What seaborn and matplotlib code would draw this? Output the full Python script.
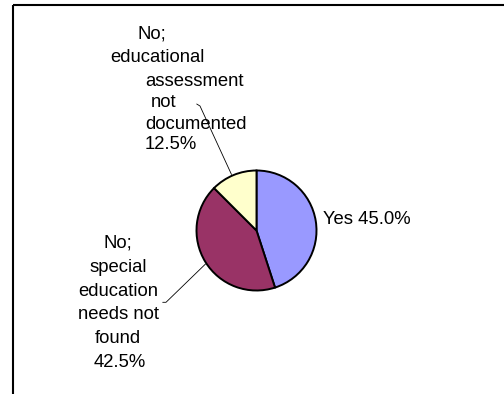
import matplotlib
matplotlib.use("Agg")
import matplotlib.pyplot as plt
import seaborn as sns

# Share of cases by assessment outcome
categories = ["Yes",
              "No; special education needs not found",
              "No; educational assessment not documented"]
values = [45.0, 42.5, 12.5]
colors = ["#9999FF", "#993366", "#FFFFCC"]

sns.set_theme(style="white")
plt.rcParams["font.family"] = ["Liberation Sans", "DejaVu Sans"]

W, H = 504, 394
fig = plt.figure(figsize=(W / 100, H / 100), dpi=100)
ax = fig.add_axes([0, 0, 1, 1])


def py(y):
    # pixel rows counted from the top
    return H - y


# pie, clockwise from 12 o'clock
cx, cy, r = 256.5, 230.5, 60
ax.pie(values, colors=colors, startangle=90, counterclock=False,
       center=(cx, py(cy)), radius=r, frame=True,
       wedgeprops=dict(edgecolor="black", linewidth=1.4))
ax.set_xlim(0, W)
ax.set_ylim(0, H)
ax.set_aspect("equal")
ax.axis("off")

fs = 13.3
pct = [f"{v:.1f}%" for v in values]

# "Yes" label, right of the pie
ax.text(322.7, py(224), f"{categories[0]} {pct[0]}", fontsize=fs,
        ha="left", va="baseline", color="black")

# lower-left label, wrapped and centred
low_lines = ["No;", "special", "education", "needs not", "found", pct[1]]
low_base = [247.7, 271.7, 295.7, 319.3, 343.3, 366.7]
low_x = [118, 118, 118, 118, 118, 120]
for t, x, b in zip(low_lines, low_x, low_base):
    ax.text(x, py(b), t, fontsize=fs, ha="center", va="baseline", color="black")

# upper label, wrapped
top_lines = ["No;", "educational", "assessment", "not", "documented", pct[2]]
top_x = [137.3, 110.7, 145, 150.7, 145, 145]
top_base = [38.3, 61.7, 86, 106.7, 129, 149.3]
for t, x, b in zip(top_lines, top_x, top_base):
    ax.text(x, py(b), t, fontsize=fs, ha="left", va="baseline", color="black")

# leader lines
ax.plot([196.7, 200, 231.5], [py(104), py(106), py(174.5)],
        color="black", linewidth=0.6)
ax.plot([162.7, 166, 205.5], [py(302.3), py(302.3), py(264)],
        color="black", linewidth=0.6)

# chart area frame (top and left edges)
ax.plot([12.5, W], [py(4.5), py(4.5)], color="black", linewidth=1.5,
        solid_capstyle="butt")
ax.plot([12.5, 12.5], [py(4.5), 0], color="black", linewidth=1.5,
        solid_capstyle="butt")

fig.savefig("out.png", dpi=100, facecolor="white")
